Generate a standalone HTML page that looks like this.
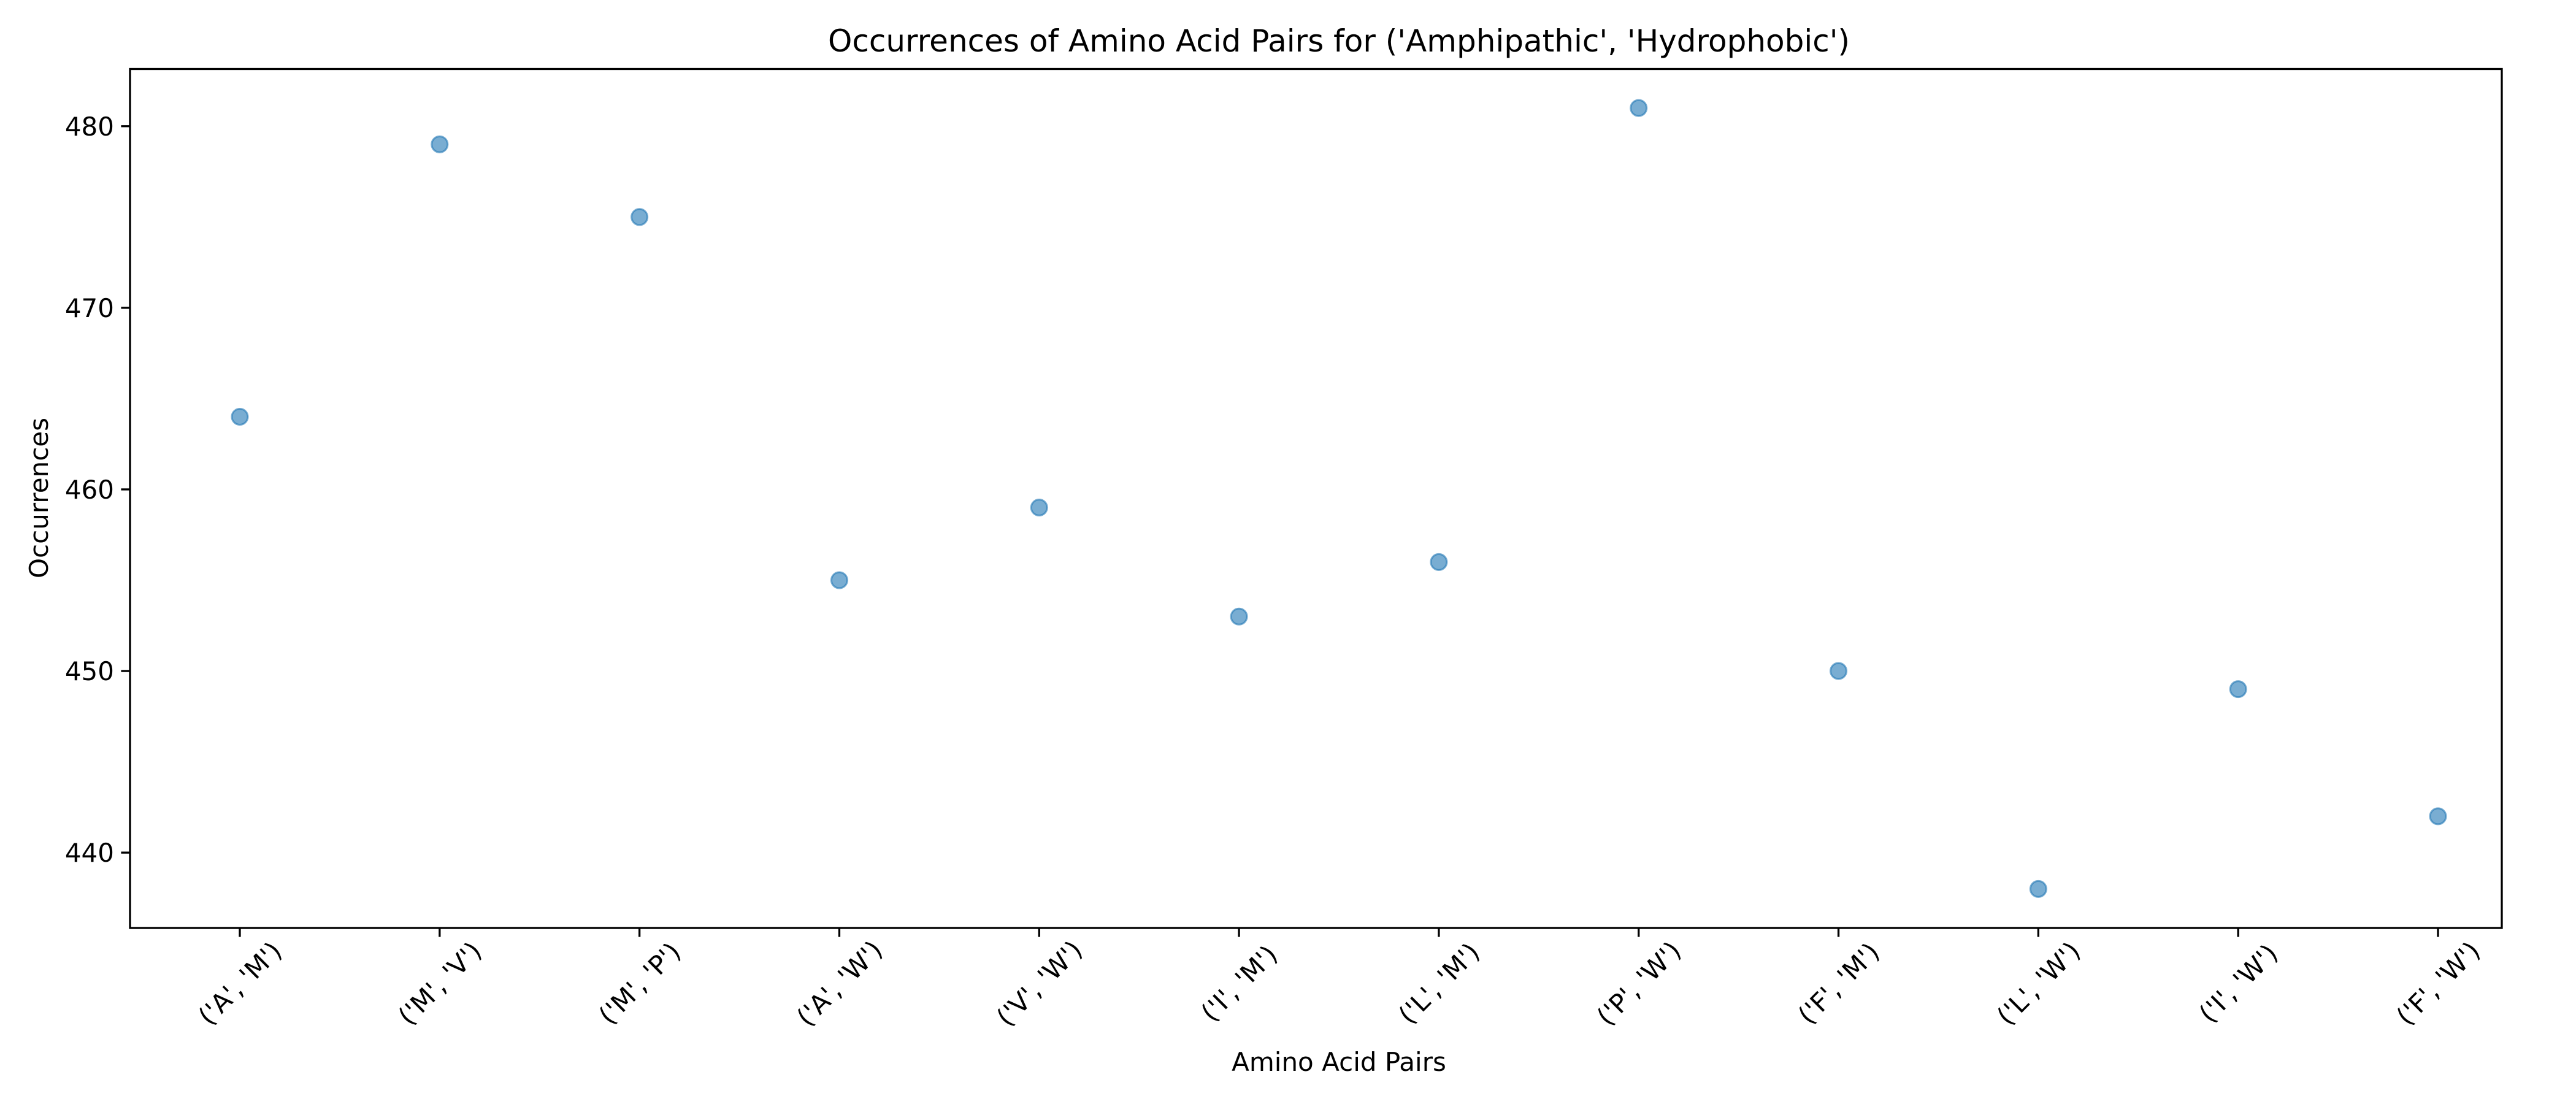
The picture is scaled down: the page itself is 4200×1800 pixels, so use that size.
<!DOCTYPE html>
<html><head><meta charset="utf-8"><style>body{margin:0;background:#fff}svg{display:block}</style></head>
<body>
<svg id="chart" width="4200" height="1800" xmlns="http://www.w3.org/2000/svg" font-family="'DejaVu Sans','Liberation Sans',sans-serif">
<rect width="4200" height="1800" fill="#fff"/>
<text x="2183" y="84" font-size="50" text-anchor="middle">Occurrences of Amino Acid Pairs for ('Amphipathic', 'Hydrophobic')</text>
<text x="2183" y="1746" font-size="42" text-anchor="middle">Amino Acid Pairs</text>
<text transform="translate(78,812) rotate(-90)" font-size="42" text-anchor="middle">Occurrences</text>
<g id="marks"></g>
<rect x="212" y="112.5" width="3867" height="1400.5" fill="none" stroke="#000" stroke-width="3.3"/>
</svg>
<script>
const categories = ["('A', 'M')","('M', 'V')","('M', 'P')","('A', 'W')","('V', 'W')","('I', 'M')","('L', 'M')","('P', 'W')","('F', 'M')","('L', 'W')","('I', 'W')","('F', 'W')"];
const occurrences = [464,479,475,455,459,453,456,481,450,438,449,442];
const yTicks = [440,450,460,470,480];

const NS = "http://www.w3.org/2000/svg";
const g = document.getElementById('marks');
const L=212,R=4079,T=112.5,B=1513,yMin=435.85,yMax=483.15;
const x0=391,x1=3975;
function xs(i){return x0+(x1-x0)*i/(categories.length-1);}
function ys(v){return B-(v-yMin)/(yMax-yMin)*(B-T);}
function mk(tag,attrs){const e=document.createElementNS(NS,tag);for(const k in attrs)e.setAttribute(k,attrs[k]);g.appendChild(e);return e;}

yTicks.forEach(v=>{
  const y=ys(v);
  const t=mk('line',{x1:L-14.6,x2:L,y1:y,y2:y,stroke:'#000','stroke-width':3.3});
  
  
  const lb=mk('text',{x:L-26,y:y+15,'font-size':42,'text-anchor':'end'});
  lb.textContent=v;
  
  
});
categories.forEach((c,i)=>{
  const x=xs(i);
  const t=mk('line',{x1:x,x2:x,y1:B,y2:B+14.6,stroke:'#000','stroke-width':3.3});
  
  
  const lb=mk('text',{'font-size':42,'text-anchor':'middle',transform:`translate(${x},${B+90}) rotate(-45) translate(0,15)`});
  lb.textContent=c;
  
  
});
occurrences.forEach((v,i)=>{
  const p=mk('circle',{cx:xs(i),cy:ys(v),r:13,fill:'#1f77b4','fill-opacity':0.6,stroke:'#1f77b4','stroke-opacity':0.6,'stroke-width':3});
  
  
});
</script>
</body></html>
